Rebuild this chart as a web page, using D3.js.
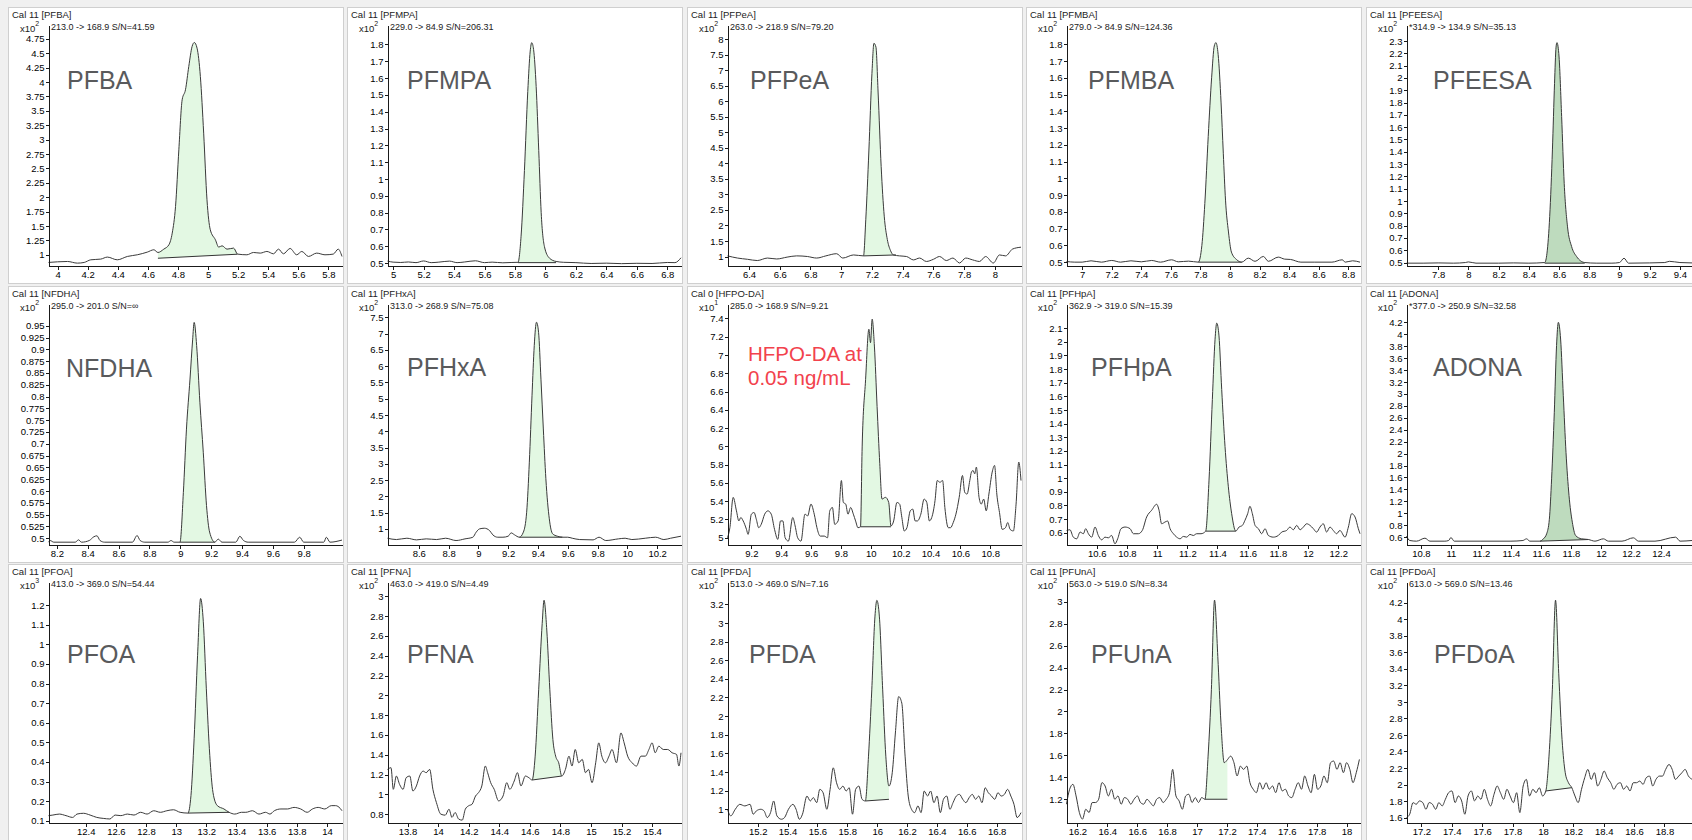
<!doctype html>
<html lang="en">
<head>
<meta charset="UTF-8">
<title>PFAS chromatograms</title>
<style>
    body { margin: 0; background: #f0f0f0; }
    svg { display: block; font-family: "Liberation Sans", Arial, sans-serif; }
    .axis path, .axis line { stroke: #1a1a1a; shape-rendering: crispEdges; }
</style>
</head>
<body>
<svg id="chart" width="1692" height="840"></svg>
<script src="https://d3js.org/d3.v7.min.js"></script>
<script>
    // ---- data ----
    const compounds = ["PFBA", "PFMPA", "PFPeA", "PFMBA", "PFEESA",
        "NFDHA", "PFHxA", "HFPO-DA", "PFHpA", "ADONA",
        "PFOA", "PFNA", "PFDA", "PFUnA", "PFDoA"];
    const samples = ["Cal 11", "Cal 11", "Cal 11", "Cal 11", "Cal 11",
        "Cal 11", "Cal 11", "Cal 0", "Cal 11", "Cal 11",
        "Cal 11", "Cal 11", "Cal 11", "Cal 11", "Cal 11"];
    const peakLabels = ["PFBA", "PFMPA", "PFPeA", "PFMBA", "PFEESA",
        "NFDHA", "PFHxA", "HFPO-DA at\n0.05 ng/mL", "PFHpA", "ADONA",
        "PFOA", "PFNA", "PFDA", "PFUnA", "PFDoA"];
    const transitions = ["213.0 -> 168.9 S/N=41.59", "229.0 -> 84.9 S/N=206.31", "263.0 -> 218.9 S/N=79.20",
        "279.0 -> 84.9 S/N=124.36", "*314.9 -> 134.9 S/N=35.13", "295.0 -> 201.0 S/N=\u221e",
        "313.0 -> 268.9 S/N=75.08", "285.0 -> 168.9 S/N=9.21", "362.9 -> 319.0 S/N=15.39",
        "*377.0 -> 250.9 S/N=32.58", "413.0 -> 369.0 S/N=54.44", "463.0 -> 419.0 S/N=4.49",
        "513.0 -> 469.0 S/N=7.16", "563.0 -> 519.0 S/N=8.34", "613.0 -> 569.0 S/N=13.46"];
    const exponents = [2, 2, 2, 2, 2, 2, 2, 1, 2, 2, 3, 2, 2, 2, 2];

    const xDomains = [[3.94, 5.89], [4.963, 6.89], [6.26, 8.17], [6.894, 8.88], [7.59, 9.533],
        [8.146, 10.048], [8.39, 10.36], [9.04, 11.006], [10.4, 12.344], [10.704, 12.66],
        [12.153, 14.1], [13.669, 15.589], [14.998, 16.963], [16.127, 18.09], [17.102, 19.034]];
    const yDomains = [[0.814, 4.99], [0.486, 1.915], [0.71, 8.46], [0.48, 1.915], [0.476, 2.43],
        [0.4866, 0.996], [0.52, 7.91], [4.926, 7.558], [0.514, 2.277], [0.477, 4.507],
        [0.091, 1.318], [0.716, 3.144], [0.858, 3.44], [0.988, 3.18], [1.54, 4.453]];

    const xTicks = [
        [4, 4.2, 4.4, 4.6, 4.8, 5, 5.2, 5.4, 5.6, 5.8],
        [5, 5.2, 5.4, 5.6, 5.8, 6, 6.2, 6.4, 6.6, 6.8],
        [6.4, 6.6, 6.8, 7, 7.2, 7.4, 7.6, 7.8, 8],
        [7, 7.2, 7.4, 7.6, 7.8, 8, 8.2, 8.4, 8.6, 8.8],
        [7.8, 8, 8.2, 8.4, 8.6, 8.8, 9, 9.2, 9.4],
        [8.2, 8.4, 8.6, 8.8, 9, 9.2, 9.4, 9.6, 9.8],
        [8.6, 8.8, 9, 9.2, 9.4, 9.6, 9.8, 10, 10.2],
        [9.2, 9.4, 9.6, 9.8, 10, 10.2, 10.4, 10.6, 10.8],
        [10.6, 10.8, 11, 11.2, 11.4, 11.6, 11.8, 12, 12.2],
        [10.8, 11, 11.2, 11.4, 11.6, 11.8, 12, 12.2, 12.4],
        [12.4, 12.6, 12.8, 13, 13.2, 13.4, 13.6, 13.8, 14],
        [13.8, 14, 14.2, 14.4, 14.6, 14.8, 15, 15.2, 15.4],
        [15.2, 15.4, 15.6, 15.8, 16, 16.2, 16.4, 16.6, 16.8],
        [16.2, 16.4, 16.6, 16.8, 17, 17.2, 17.4, 17.6, 17.8, 18],
        [17.2, 17.4, 17.6, 17.8, 18, 18.2, 18.4, 18.6, 18.8]
    ];
    const yTicks = [
        [1, 1.25, 1.5, 1.75, 2, 2.25, 2.5, 2.75, 3, 3.25, 3.5, 3.75, 4, 4.25, 4.5, 4.75],
        [0.5, 0.6, 0.7, 0.8, 0.9, 1, 1.1, 1.2, 1.3, 1.4, 1.5, 1.6, 1.7, 1.8],
        [1, 1.5, 2, 2.5, 3, 3.5, 4, 4.5, 5, 5.5, 6, 6.5, 7, 7.5, 8],
        [0.5, 0.6, 0.7, 0.8, 0.9, 1, 1.1, 1.2, 1.3, 1.4, 1.5, 1.6, 1.7, 1.8],
        [0.5, 0.6, 0.7, 0.8, 0.9, 1, 1.1, 1.2, 1.3, 1.4, 1.5, 1.6, 1.7, 1.8, 1.9, 2, 2.1, 2.2, 2.3],
        [0.5, 0.525, 0.55, 0.575, 0.6, 0.625, 0.65, 0.675, 0.7, 0.725, 0.75, 0.775, 0.8, 0.825, 0.85, 0.875, 0.9, 0.925, 0.95],
        [1, 1.5, 2, 2.5, 3, 3.5, 4, 4.5, 5, 5.5, 6, 6.5, 7, 7.5],
        [5, 5.2, 5.4, 5.6, 5.8, 6, 6.2, 6.4, 6.6, 6.8, 7, 7.2, 7.4],
        [0.6, 0.7, 0.8, 0.9, 1, 1.1, 1.2, 1.3, 1.4, 1.5, 1.6, 1.7, 1.8, 1.9, 2, 2.1],
        [0.6, 0.8, 1, 1.2, 1.4, 1.6, 1.8, 2, 2.2, 2.4, 2.6, 2.8, 3, 3.2, 3.4, 3.6, 3.8, 4, 4.2],
        [0.1, 0.2, 0.3, 0.4, 0.5, 0.6, 0.7, 0.8, 0.9, 1, 1.1, 1.2],
        [0.8, 1, 1.2, 1.4, 1.6, 1.8, 2, 2.2, 2.4, 2.6, 2.8, 3],
        [1, 1.2, 1.4, 1.6, 1.8, 2, 2.2, 2.4, 2.6, 2.8, 3, 3.2],
        [1.2, 1.4, 1.6, 1.8, 2, 2.2, 2.4, 2.6, 2.8, 3],
        [1.6, 1.8, 2, 2.2, 2.4, 2.6, 2.8, 3, 3.2, 3.4, 3.6, 3.8, 4, 4.2]
    ];

    // integrated peak: [start time, baseline at start, end time, baseline at end]
    const peakFills = [[4.667, 0.94, 5.196, 1.01], [5.82, 0.503, 6.07, 0.503], [7.145, 1.02, 7.356, 1.05],
        [7.786, 0.5, 8.08, 0.5], [8.505, 0.495, 8.77, 0.495], [8.998, 0.4915, 9.224, 0.4915],
        [9.275, 0.744, 9.565, 0.744], [9.931, 5.12, 10.135, 5.12], [11.322, 0.612, 11.521, 0.612],
        [11.593, 0.533, 11.916, 0.56], [13.078, 0.139, 13.351, 0.143], [14.615, 1.145, 14.809, 1.185],
        [15.921, 1.089, 16.079, 1.107], [17.053, 1.2, 17.203, 1.2], [18.019, 1.922, 18.19, 1.962]];

    // chromatogram traces [time (min), counts]
    const tracePFBA = [[3.94,0.867],[4.0,0.878],[4.066,0.884],[4.132,0.855],[4.177,0.867],[4.221,0.913],[4.287,0.925],[4.331,0.96],[4.397,0.913],[4.464,0.971],[4.53,1.0],[4.596,1.046],[4.64,1.087],[4.667,1.04],[4.706,1.098],[4.74,1.174],[4.762,1.376],[4.784,1.839],[4.806,2.823],[4.828,3.691],[4.85,3.865],[4.872,4.27],[4.894,4.617],[4.909,4.686],[4.927,4.588],[4.949,4.096],[4.971,3.112],[4.993,1.955],[5.015,1.434],[5.049,1.26],[5.071,1.133],[5.093,1.156],[5.126,1.098],[5.17,1.116],[5.196,1.012],[5.258,1.0],[5.302,1.04],[5.347,1.029],[5.391,1.058],[5.435,1.017],[5.468,1.098],[5.501,1.017],[5.545,1.11],[5.589,1.0],[5.623,1.058],[5.667,0.971],[5.722,1.029],[5.777,1.0],[5.832,1.012],[5.865,1.098],[5.89,0.971]];
    const tracePFMPA = [[4.963,0.512],[5.0,0.506],[5.05,0.504],[5.1,0.507],[5.15,0.503],[5.2,0.513],[5.25,0.503],[5.3,0.506],[5.37,0.512],[5.42,0.503],[5.47,0.507],[5.54,0.514],[5.6,0.503],[5.65,0.506],[5.72,0.502],[5.78,0.504],[5.82,0.505],[5.84,0.66],[5.862,1.05],[5.884,1.52],[5.9,1.76],[5.91,1.81],[5.922,1.77],[5.939,1.55],[5.956,1.17],[5.972,0.8],[5.993,0.6],[6.026,0.53],[6.07,0.51],[6.12,0.505],[6.2,0.503],[6.3,0.498],[6.4,0.5],[6.5,0.497],[6.6,0.499],[6.7,0.498],[6.8,0.504],[6.85,0.503],[6.89,0.532]];
    const tracePFPeA = [[6.26,1.02],[6.325,0.95],[6.39,0.91],[6.454,0.87],[6.52,0.95],[6.58,0.92],[6.648,0.98],[6.71,1.02],[6.78,1.0],[6.84,0.95],[6.9,1.02],[6.97,1.09],[7.01,0.95],[7.08,1.05],[7.145,1.02],[7.16,2.2],[7.18,4.4],[7.2,6.9],[7.213,7.87],[7.226,7.75],[7.24,6.3],[7.26,3.9],[7.28,2.3],[7.3,1.55],[7.32,1.2],[7.34,1.05],[7.38,1.02],[7.425,1.0],[7.47,0.89],[7.51,0.95],[7.554,0.84],[7.6,0.91],[7.64,1.0],[7.684,0.87],[7.727,0.95],[7.77,0.79],[7.81,0.95],[7.856,0.89],[7.9,0.84],[7.94,1.0],[7.99,0.79],[8.03,1.05],[8.07,1.02],[8.115,1.24],[8.17,1.3]];
    const tracePFMBA = [[6.894,0.504],[6.95,0.5],[7.0,0.5],[7.06,0.508],[7.13,0.5],[7.2,0.51],[7.26,0.5],[7.33,0.508],[7.4,0.502],[7.47,0.51],[7.53,0.5],[7.605,0.514],[7.65,0.502],[7.72,0.506],[7.786,0.5],[7.81,0.6],[7.83,0.85],[7.853,1.25],[7.876,1.6],[7.894,1.79],[7.905,1.81],[7.92,1.74],[7.94,1.45],[7.955,1.15],[7.97,0.87],[7.99,0.68],[8.01,0.56],[8.045,0.515],[8.08,0.5],[8.124,0.524],[8.17,0.505],[8.226,0.534],[8.26,0.505],[8.327,0.53],[8.37,0.518],[8.41,0.516],[8.48,0.5],[8.57,0.5],[8.69,0.5],[8.76,0.514],[8.78,0.5],[8.83,0.508],[8.88,0.5]];
    const tracePFEESA = [[7.59,0.495],[7.7,0.495],[7.8,0.497],[7.9,0.495],[7.98,0.5],[8.0,0.505],[8.05,0.495],[8.2,0.495],[8.3,0.497],[8.4,0.495],[8.505,0.5],[8.52,0.576],[8.538,0.874],[8.556,1.415],[8.57,1.956],[8.58,2.25],[8.586,2.287],[8.6,2.17],[8.617,1.686],[8.634,1.144],[8.656,0.79],[8.683,0.63],[8.716,0.549],[8.77,0.5],[8.85,0.495],[8.95,0.495],[9.0,0.5],[9.03,0.535],[9.06,0.495],[9.2,0.497],[9.3,0.5],[9.33,0.51],[9.4,0.5],[9.48,0.497]];
    const traceNFDHA = [[8.146,0.4915],[8.157,0.495],[8.18,0.4915],[8.32,0.4915],[8.34,0.4965],[8.36,0.4915],[8.41,0.495],[8.44,0.503],[8.46,0.505],[8.48,0.495],[8.51,0.4915],[8.69,0.4915],[8.72,0.5056],[8.74,0.495],[8.77,0.4915],[8.92,0.4915],[8.94,0.495],[8.96,0.4915],[8.998,0.4915],[9.02,0.597],[9.04,0.731],[9.063,0.837],[9.08,0.92],[9.09,0.957],[9.106,0.908],[9.127,0.788],[9.149,0.682],[9.17,0.569],[9.19,0.513],[9.224,0.4915],[9.246,0.498],[9.27,0.4915],[9.36,0.4915],[9.386,0.504],[9.41,0.495],[9.44,0.4915],[9.74,0.4915],[9.774,0.502],[9.8,0.4915],[9.93,0.4915],[9.947,0.502],[9.97,0.4915],[10.048,0.496]];
    const tracePFHxA = [[8.39,0.713],[8.45,0.672],[8.52,0.713],[8.585,0.662],[8.65,0.693],[8.72,0.672],[8.78,0.713],[8.85,0.642],[8.91,0.693],[8.963,0.744],[8.985,0.898],[9.008,1.0],[9.04,1.02],[9.075,0.949],[9.097,0.816],[9.13,0.744],[9.165,0.744],[9.2,0.775],[9.22,0.877],[9.243,0.816],[9.275,0.744],[9.302,0.9],[9.324,1.51],[9.342,3.05],[9.36,5.09],[9.375,6.63],[9.39,7.35],[9.404,7.04],[9.42,5.6],[9.436,4.07],[9.453,2.54],[9.476,1.31],[9.498,0.85],[9.53,0.775],[9.565,0.744],[9.6,0.744],[9.63,0.713],[9.68,0.672],[9.77,0.662],[9.81,0.744],[9.855,0.642],[9.94,0.693],[9.985,0.713],[10.03,0.672],[10.12,0.713],[10.19,0.744],[10.245,0.672],[10.29,0.713],[10.36,0.775]];
    const traceHFPODA = [[9.04,5.0],[9.056,5.11],[9.078,5.442],[9.1,5.294],[9.116,5.184],[9.129,5.221],[9.145,5.184],[9.167,5.092],[9.178,5.037],[9.2,5.258],[9.218,5.276],[9.233,5.202],[9.249,5.11],[9.266,5.147],[9.289,5.258],[9.311,5.294],[9.333,5.258],[9.355,5.092],[9.377,4.982],[9.395,5.184],[9.411,5.184],[9.426,5.0],[9.448,4.963],[9.477,5.221],[9.493,5.129],[9.51,5.0],[9.532,4.963],[9.559,5.258],[9.577,5.239],[9.599,5.368],[9.621,5.258],[9.639,5.11],[9.661,5.018],[9.688,5.018],[9.71,5.0],[9.725,5.294],[9.743,5.331],[9.758,5.147],[9.781,5.184],[9.803,5.626],[9.816,5.386],[9.832,5.368],[9.847,5.258],[9.865,5.331],[9.883,5.258],[9.898,5.184],[9.914,5.11],[9.931,5.121],[9.942,5.994],[9.965,6.73],[9.987,7.282],[9.998,7.135],[10.009,7.392],[10.024,7.098],[10.042,6.435],[10.06,5.81],[10.075,5.423],[10.098,5.442],[10.12,5.386],[10.135,5.129],[10.153,5.184],[10.175,5.386],[10.193,5.368],[10.208,5.221],[10.224,5.074],[10.242,5.11],[10.264,5.294],[10.281,5.313],[10.297,5.184],[10.312,5.184],[10.335,5.258],[10.357,5.423],[10.375,5.386],[10.392,5.184],[10.408,5.221],[10.43,5.405],[10.445,5.626],[10.463,5.607],[10.481,5.626],[10.496,5.331],[10.519,5.11],[10.534,5.11],[10.552,5.166],[10.57,5.258],[10.592,5.442],[10.614,5.681],[10.629,5.497],[10.645,5.478],[10.663,5.626],[10.674,5.718],[10.685,5.736],[10.696,5.699],[10.707,5.773],[10.725,5.442],[10.74,5.368],[10.756,5.423],[10.773,5.294],[10.791,5.478],[10.813,5.718],[10.829,5.791],[10.844,5.478],[10.862,5.276],[10.88,5.092],[10.902,5.11],[10.917,5.166],[10.933,5.092],[10.955,5.074],[10.973,5.368],[10.991,5.828],[11.006,5.626]];
    const tracePFHpA = [[10.401,0.617],[10.423,0.622],[10.445,0.568],[10.468,0.556],[10.49,0.605],[10.512,0.593],[10.527,0.63],[10.545,0.593],[10.567,0.568],[10.589,0.642],[10.611,0.58],[10.633,0.548],[10.655,0.568],[10.677,0.563],[10.699,0.58],[10.721,0.519],[10.739,0.556],[10.761,0.63],[10.788,0.642],[10.821,0.63],[10.843,0.593],[10.876,0.593],[10.902,0.617],[10.931,0.716],[10.964,0.765],[10.997,0.809],[11.013,0.765],[11.03,0.666],[11.053,0.679],[11.07,0.686],[11.086,0.63],[11.108,0.593],[11.13,0.568],[11.152,0.556],[11.174,0.573],[11.196,0.568],[11.218,0.588],[11.24,0.58],[11.262,0.593],[11.291,0.593],[11.322,0.612],[11.344,0.986],[11.366,1.576],[11.384,2.019],[11.395,2.137],[11.41,2.043],[11.428,1.65],[11.45,1.232],[11.472,0.937],[11.494,0.74],[11.521,0.612],[11.543,0.642],[11.565,0.654],[11.582,0.691],[11.6,0.74],[11.615,0.794],[11.631,0.74],[11.649,0.654],[11.671,0.63],[11.693,0.593],[11.715,0.63],[11.737,0.58],[11.77,0.568],[11.803,0.58],[11.825,0.605],[11.858,0.617],[11.88,0.642],[11.902,0.622],[11.925,0.654],[11.947,0.622],[11.969,0.642],[11.991,0.666],[12.013,0.654],[12.035,0.63],[12.057,0.605],[12.079,0.642],[12.101,0.666],[12.123,0.605],[12.145,0.642],[12.167,0.617],[12.189,0.593],[12.211,0.617],[12.245,0.568],[12.267,0.642],[12.289,0.74],[12.311,0.716],[12.333,0.63],[12.344,0.593]];
    const traceADONA = [[10.704,0.617],[10.726,0.544],[10.771,0.533],[10.827,0.583],[10.86,0.533],[10.96,0.533],[10.985,0.544],[11.0,0.594],[11.022,0.533],[11.2,0.533],[11.4,0.533],[11.48,0.544],[11.504,0.572],[11.526,0.533],[11.593,0.533],[11.616,0.572],[11.638,0.656],[11.656,0.9],[11.671,1.577],[11.689,2.693],[11.704,3.81],[11.716,4.2],[11.731,3.92],[11.749,2.97],[11.767,2.02],[11.787,1.3],[11.809,0.851],[11.831,0.628],[11.871,0.572],[11.916,0.561],[11.96,0.533],[12.016,0.572],[12.05,0.533],[12.14,0.533],[12.216,0.589],[12.25,0.533],[12.36,0.533],[12.498,0.6],[12.527,0.533],[12.607,0.544]];
    const tracePFOA = [[12.153,0.126],[12.182,0.129],[12.225,0.134],[12.269,0.126],[12.313,0.117],[12.342,0.134],[12.385,0.138],[12.429,0.129],[12.473,0.117],[12.516,0.112],[12.56,0.109],[12.595,0.129],[12.633,0.126],[12.676,0.134],[12.72,0.129],[12.764,0.143],[12.807,0.134],[12.851,0.151],[12.895,0.143],[12.938,0.151],[12.982,0.156],[13.026,0.143],[13.078,0.139],[13.098,0.228],[13.119,0.518],[13.142,0.944],[13.162,1.234],[13.18,1.115],[13.2,0.773],[13.223,0.432],[13.244,0.245],[13.273,0.177],[13.317,0.16],[13.351,0.143],[13.389,0.134],[13.433,0.143],[13.462,0.143],[13.506,0.151],[13.549,0.134],[13.593,0.143],[13.622,0.134],[13.651,0.151],[13.695,0.16],[13.738,0.16],[13.782,0.168],[13.826,0.16],[13.869,0.143],[13.904,0.16],[13.942,0.168],[13.986,0.16],[14.029,0.177],[14.058,0.177],[14.088,0.163],[14.1,0.151]];
    const tracePFNA = [[13.669,1.252],[13.692,1.269],[13.707,1.051],[13.727,1.185],[13.748,1.101],[13.771,1.051],[13.791,1.168],[13.815,1.185],[13.835,1.034],[13.858,1.085],[13.879,1.185],[13.902,1.235],[13.922,1.219],[13.945,1.252],[13.966,1.051],[13.989,0.917],[14.018,0.8],[14.047,0.79],[14.071,0.85],[14.091,0.767],[14.111,0.817],[14.135,0.75],[14.158,0.74],[14.178,0.85],[14.199,0.884],[14.222,0.9],[14.245,0.984],[14.265,1.018],[14.286,1.085],[14.309,1.286],[14.324,1.219],[14.344,1.118],[14.367,1.051],[14.396,0.934],[14.425,0.984],[14.449,1.118],[14.469,1.051],[14.498,1.135],[14.519,1.219],[14.542,1.085],[14.571,1.185],[14.594,1.168],[14.615,1.145],[14.635,1.386],[14.658,2.056],[14.681,2.726],[14.693,2.96],[14.711,2.659],[14.731,2.056],[14.751,1.553],[14.769,1.386],[14.789,1.319],[14.809,1.185],[14.833,1.252],[14.856,1.386],[14.876,1.286],[14.897,1.453],[14.92,1.319],[14.943,1.353],[14.964,1.219],[14.984,1.252],[15.007,1.118],[15.031,1.319],[15.051,1.52],[15.071,1.386],[15.095,1.319],[15.118,1.386],[15.138,1.453],[15.167,1.319],[15.196,1.62],[15.217,1.52],[15.24,1.386],[15.269,1.319],[15.298,1.286],[15.327,1.386],[15.356,1.386],[15.379,1.453],[15.4,1.52],[15.42,1.42],[15.444,1.487],[15.473,1.453],[15.502,1.453],[15.531,1.42],[15.56,1.403],[15.575,1.286],[15.589,1.42]];
    const tracePFDA = [[14.998,1.0],[15.02,0.929],[15.05,1.0],[15.08,1.053],[15.114,1.036],[15.149,1.053],[15.17,0.947],[15.191,0.982],[15.221,1.0],[15.243,0.982],[15.264,0.911],[15.286,0.964],[15.307,1.089],[15.329,0.929],[15.359,0.893],[15.38,0.911],[15.406,1.0],[15.436,1.053],[15.457,1.0],[15.479,0.893],[15.5,0.947],[15.53,1.142],[15.552,1.089],[15.573,1.125],[15.595,1.071],[15.616,1.214],[15.638,1.178],[15.663,1.0],[15.685,1.214],[15.706,1.445],[15.728,1.285],[15.749,1.214],[15.771,1.249],[15.792,1.196],[15.813,1.231],[15.835,0.947],[15.856,1.214],[15.878,1.249],[15.899,1.107],[15.921,1.089],[15.942,1.57],[15.964,2.282],[15.985,3.065],[15.998,3.243],[16.015,3.065],[16.037,2.282],[16.058,1.57],[16.079,1.249],[16.101,1.392],[16.122,1.819],[16.144,2.21],[16.165,2.139],[16.187,1.57],[16.208,1.142],[16.23,1.0],[16.251,0.964],[16.273,1.036],[16.294,0.964],[16.315,1.196],[16.337,1.142],[16.358,1.196],[16.38,1.071],[16.401,1.142],[16.423,0.964],[16.444,1.107],[16.466,1.142],[16.487,1.0],[16.508,1.071],[16.53,1.142],[16.551,1.16],[16.573,1.107],[16.594,1.071],[16.616,1.125],[16.637,1.16],[16.659,1.107],[16.68,1.142],[16.702,1.071],[16.723,1.231],[16.744,1.178],[16.766,1.142],[16.787,1.107],[16.809,1.178],[16.83,1.142],[16.852,1.16],[16.873,1.214],[16.895,1.142],[16.916,1.053],[16.937,0.911],[16.963,0.964]];
    const tracePFUnA = [[16.127,1.155],[16.148,1.291],[16.17,1.336],[16.191,1.23],[16.213,1.079],[16.234,1.019],[16.256,1.109],[16.278,1.079],[16.299,1.17],[16.321,1.17],[16.342,1.2],[16.364,1.351],[16.385,1.321],[16.407,1.23],[16.428,1.291],[16.45,1.2],[16.471,1.23],[16.493,1.155],[16.514,1.215],[16.536,1.2],[16.557,1.155],[16.579,1.2],[16.601,1.23],[16.622,1.17],[16.644,1.155],[16.665,1.2],[16.687,1.17],[16.708,1.14],[16.73,1.2],[16.751,1.215],[16.773,1.17],[16.794,1.2],[16.816,1.26],[16.837,1.472],[16.859,1.23],[16.88,1.185],[16.902,1.109],[16.924,1.23],[16.945,1.245],[16.967,1.17],[16.988,1.215],[17.01,1.17],[17.031,1.215],[17.053,1.2],[17.074,1.593],[17.096,2.198],[17.117,3.015],[17.139,2.501],[17.16,1.896],[17.182,1.533],[17.203,1.56],[17.225,1.593],[17.247,1.533],[17.268,1.412],[17.29,1.502],[17.311,1.472],[17.333,1.502],[17.354,1.351],[17.376,1.291],[17.397,1.26],[17.419,1.351],[17.44,1.291],[17.462,1.351],[17.483,1.291],[17.505,1.321],[17.526,1.26],[17.548,1.351],[17.57,1.276],[17.591,1.291],[17.613,1.23],[17.634,1.215],[17.656,1.291],[17.677,1.351],[17.699,1.291],[17.72,1.412],[17.742,1.321],[17.763,1.26],[17.785,1.427],[17.806,1.291],[17.828,1.321],[17.849,1.412],[17.871,1.351],[17.893,1.533],[17.914,1.548],[17.936,1.472],[17.957,1.533],[17.979,1.442],[18.0,1.533],[18.022,1.472],[18.043,1.351],[18.065,1.442],[18.086,1.563]];
    const tracePFDoA = [[17.102,1.6],[17.123,1.64],[17.145,1.781],[17.166,1.761],[17.187,1.801],[17.209,1.781],[17.23,1.7],[17.251,1.781],[17.273,1.761],[17.294,1.7],[17.315,1.781],[17.337,1.741],[17.358,1.821],[17.379,1.901],[17.401,1.922],[17.422,1.781],[17.443,1.861],[17.465,1.801],[17.486,1.64],[17.507,1.861],[17.529,1.922],[17.55,1.801],[17.571,1.861],[17.592,1.821],[17.614,1.942],[17.635,1.821],[17.656,1.741],[17.678,1.881],[17.699,1.982],[17.72,1.901],[17.742,1.821],[17.763,1.942],[17.784,1.861],[17.806,1.781],[17.827,1.901],[17.848,1.66],[17.87,1.982],[17.891,2.062],[17.912,1.861],[17.934,1.942],[17.955,1.901],[17.976,1.962],[17.998,1.861],[18.019,1.922],[18.04,2.344],[18.062,3.147],[18.083,4.233],[18.104,3.348],[18.126,2.545],[18.147,2.143],[18.168,2.022],[18.19,1.962],[18.211,1.861],[18.232,1.781],[18.254,1.942],[18.275,2.082],[18.296,2.183],[18.318,2.062],[18.339,2.143],[18.36,1.982],[18.382,2.062],[18.403,2.163],[18.424,2.082],[18.446,2.022],[18.467,1.942],[18.488,2.002],[18.51,2.022],[18.531,1.942],[18.552,1.982],[18.573,1.922],[18.595,2.022],[18.616,2.022],[18.638,2.042],[18.659,2.002],[18.68,2.082],[18.702,2.102],[18.723,1.982],[18.744,2.062],[18.766,2.102],[18.787,2.102],[18.808,2.183],[18.83,2.243],[18.851,2.183],[18.872,2.062],[18.894,2.102],[18.915,2.143],[18.936,2.183],[18.958,2.102],[18.983,2.062]];

    const traces = [tracePFBA, tracePFMPA, tracePFPeA, tracePFMBA, tracePFEESA,
        traceNFDHA, tracePFHxA, traceHFPODA, tracePFHpA, traceADONA,
        tracePFOA, tracePFNA, tracePFDA, tracePFUnA, tracePFDoA];

    // ---- layout and styles ----
    const svg = d3.select("#chart");
    const colX = [8, 347, 687, 1026, 1366],
        rowY = [7, 286, 564],
        panelW = 335, panelH = 276;
    const plot = {left: 40.5, right: 334, top: 18, bottom: 258.5};
    const labelX = [59, 60, 63, 62, 67, 58, 60, 61, 65, 67, 59, 60, 62, 65, 68];
    const labelY = [82, 82, 82, 82, 82, 91, 90, 75, 90, 90, 99, 99, 99, 99, 99];
    const darkPeaks = [4, 9];

    svg.append("rect").attr("width", 1692).attr("height", 840).attr("fill", "#f0f0f0");

    compounds.forEach(function (cmp, i) {
        let g = svg.append("g")
            .attr("transform", "translate(" + colX[i % 5] + "," + rowY[Math.floor(i / 5)] + ")");

        g.append("rect")
            .attr("x", 0.5).attr("y", 0.5)
            .attr("width", panelW).attr("height", panelH)
            .attr("fill", "#fff")
            .attr("stroke", "#cfcfcf");

        let x = d3.scaleLinear().domain(xDomains[i]).range([plot.left, plot.right]);
        let y = d3.scaleLinear().domain(yDomains[i]).range([plot.bottom, plot.top]);

        // integrated area
        let f = peakFills[i];
        let base = d3.scaleLinear().domain([f[0], f[2]]).range([f[1], f[3]]);
        let tr = traces[i];
        let valAt = function (t) {
            let k = d3.bisector(d => d[0]).left(tr, t);
            if (k <= 0) return tr[0][1];
            if (k >= tr.length) return tr[tr.length - 1][1];
            let a = tr[k - 1], b = tr[k];
            return a[1] + (b[1] - a[1]) * (t - a[0]) / (b[0] - a[0]);
        };
        let inside = [[f[0], valAt(f[0])]]
            .concat(tr.filter(d => d[0] > f[0] && d[0] < f[2]))
            .concat([[f[2], valAt(f[2])]]);

        g.append("path")
            .datum(inside)
            .attr("fill", darkPeaks.includes(i) ? "#bedbbe" : "#e3f8e3")
            .attr("stroke", "none")
            .attr("d", d3.area()
                .x(d => x(d[0]))
                .y0(d => y(base(d[0])))
                .y1(d => y(d[1]))
                .curve(d3.curveMonotoneX));

        g.append("line")
            .attr("x1", x(f[0])).attr("y1", y(f[1]))
            .attr("x2", x(f[2])).attr("y2", y(f[3]))
            .attr("stroke", "#333").attr("stroke-width", 1);

        // trace
        g.append("path")
            .datum(tr)
            .attr("fill", "none")
            .attr("stroke", "#3a3a3a")
            .attr("stroke-width", 1)
            .attr("d", d3.line()
                .x(d => x(d[0]))
                .y(d => y(d[1]))
                .curve(d3.curveMonotoneX));

        // axes
        g.append("g")
            .attr("class", "axis")
            .attr("transform", "translate(" + plot.left + ",0)")
            .call(d3.axisLeft(y).tickValues(yTicks[i]).tickFormat(d => String(d))
                .tickSize(3).tickPadding(1).tickSizeOuter(0))
            .attr("font-size", "9.5px")
            .attr("font-family", "'Liberation Sans', Arial, sans-serif");

        g.append("g")
            .attr("class", "axis")
            .attr("transform", "translate(0," + plot.bottom + ")")
            .call(d3.axisBottom(x).tickValues(xTicks[i]).tickFormat(d => String(d))
                .tickSize(4).tickPadding(2).tickSizeOuter(0))
            .attr("font-size", "9.5px")
            .attr("font-family", "'Liberation Sans', Arial, sans-serif");

        // header texts
        g.append("text")
            .attr("x", 4).attr("y", 10.5)
            .attr("font-size", "9.5px")
            .attr("fill", "#222")
            .text(samples[i] + " [" + cmp + "]");

        let ex = g.append("text")
            .attr("x", 12).attr("y", 24.5)
            .attr("font-size", "9.5px")
            .attr("fill", "#222");
        ex.append("tspan").text("x10");
        ex.append("tspan").attr("dy", -6).attr("font-size", "7px").text(exponents[i]);

        g.append("text")
            .attr("x", 43).attr("y", 22.5)
            .attr("font-size", "9px")
            .attr("fill", "#222")
            .text(transitions[i]);

        // big compound label
        let lab = g.append("text")
            .attr("x", labelX[i]).attr("y", labelY[i])
            .attr("font-size", i === 7 ? "20.5px" : "25px")
            .attr("fill", i === 7 ? "#f2424c" : "#595a5c");
        peakLabels[i].split("\n").forEach(function (line, k) {
            lab.append("tspan")
                .attr("x", labelX[i])
                .attr("dy", k === 0 ? 0 : 24)
                .text(line);
        });
    });
</script>
</body>
</html>
